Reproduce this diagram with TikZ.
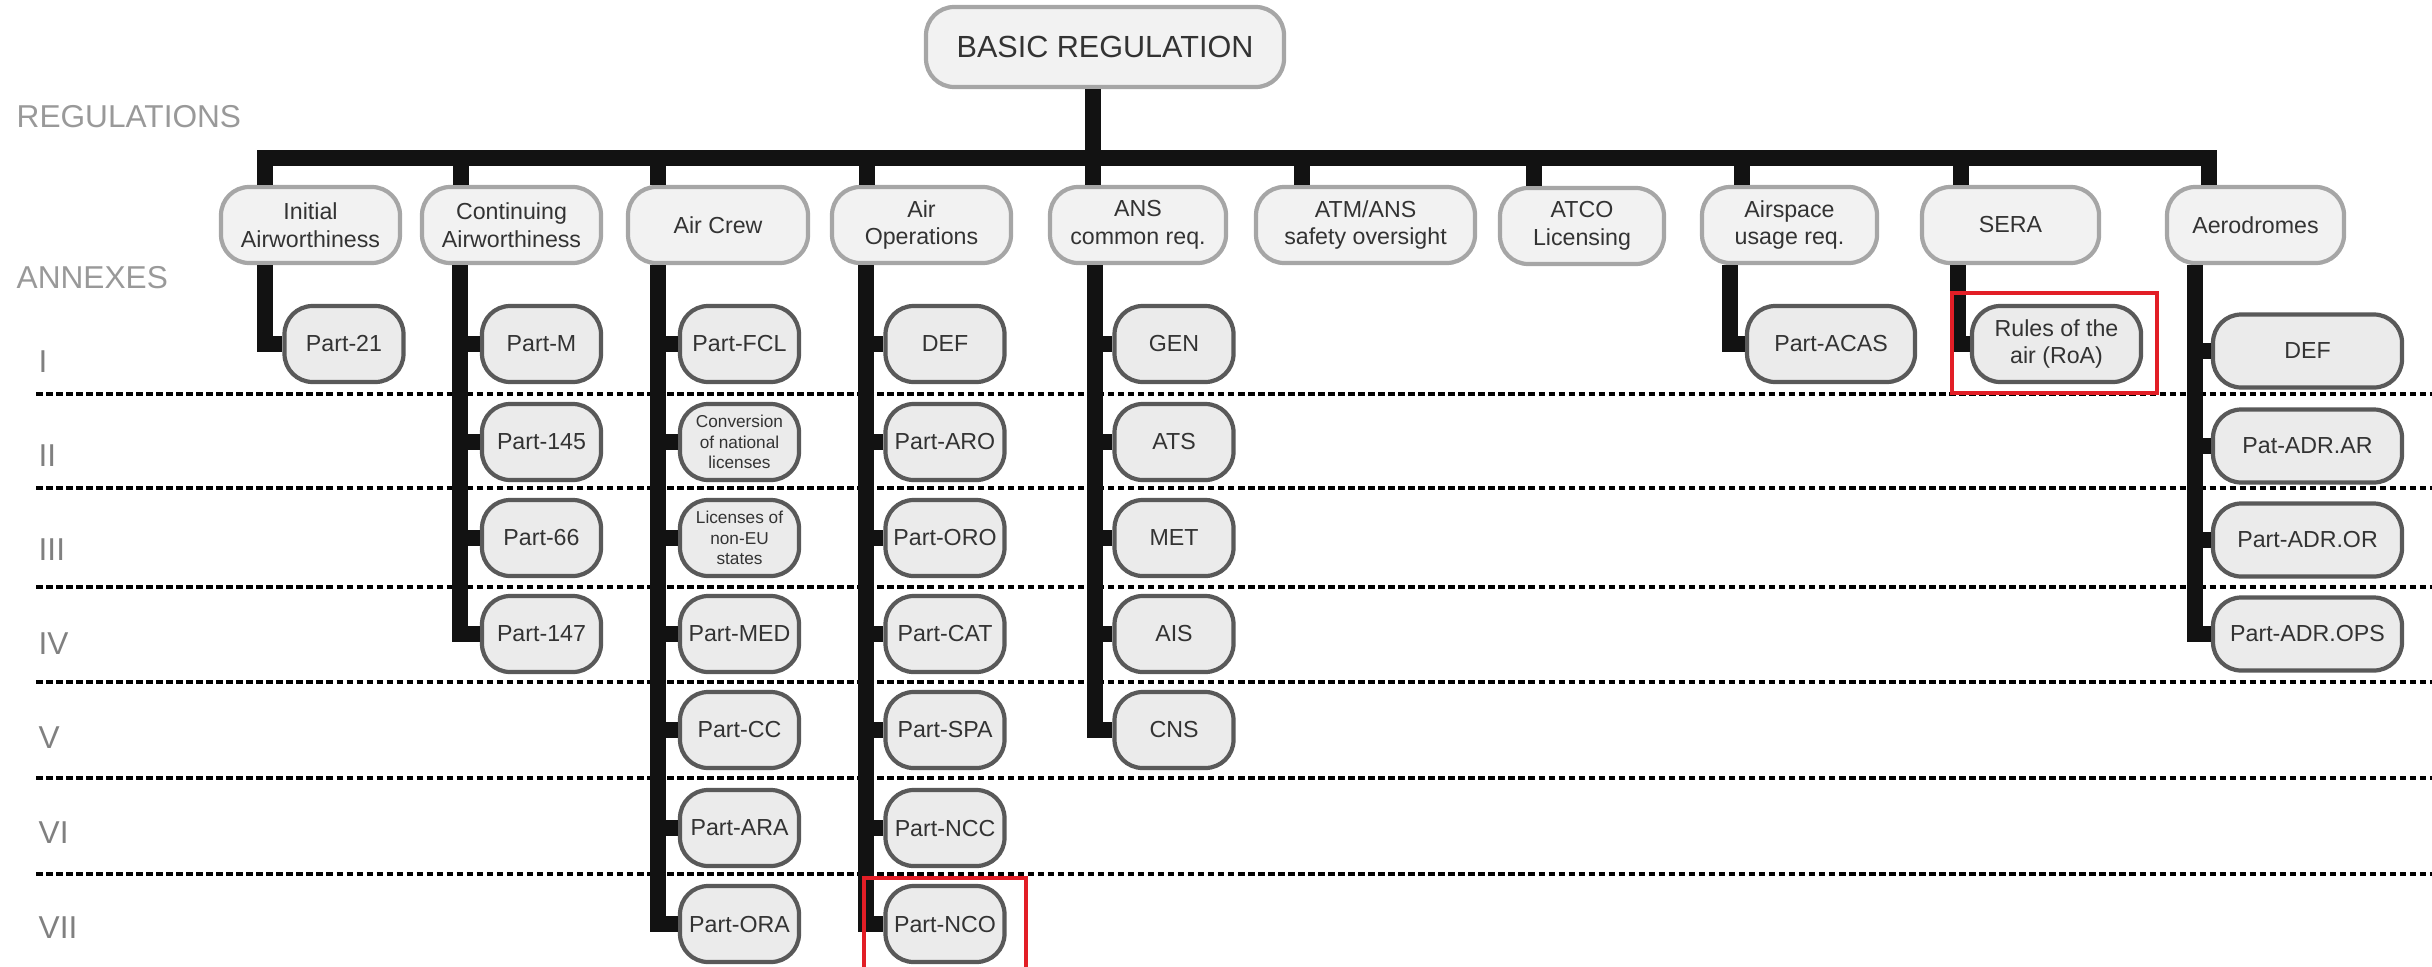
\documentclass[tikz,border=0pt]{standalone}
\usepackage{fontspec}
\setmainfont{Liberation Sans}
\usepackage{tikz}
\definecolor{framered}{RGB}{226,30,38}
\tikzset{
  regbox/.style={draw=black!35, fill=black!5, line width=1.2pt, rounded corners=8pt, inner sep=0pt,
    minimum height=0.76cm, align=center, text=black!80, font=\fontsize{6.6}{7.9}\selectfont},
  partbox/.style={regbox, draw=black!65, fill=black!8, minimum width=1.19cm},
  smalltext/.style={font=\fontsize{4.9}{5.8}\selectfont},
  bus/.style={line width=4.55pt, black!93},
  annex/.style={line width=1.1pt, dash pattern=on 1.85pt off 1pt},
  level/.style={anchor=west, inner sep=0pt, text=black!40, font=\fontsize{9}{10}\selectfont},
  redframe/.style={draw=framered, line width=1.15pt}
}
\begin{document}
\begin{tikzpicture}[x=0.1mm, y=-0.1mm]
        \useasboundingbox (0,0) rectangle (2432,966);
        \foreach \y in {394, 488, 587, 682, 778, 874} \draw[annex] (36,\y) -- (2432,\y);

        \node[level] (regs) at (16,117) {REGULATIONS};
        \node[level] (anx) at (16,278) {ANNEXES};
        \foreach \r/\y in {I/362, II/456, III/550, IV/644, V/738, VI/833, VII/928} \node[level, text=black!50] (a\r) at (38,\y) {\r};

        \node[regbox, minimum width=3.58cm, minimum height=0.80cm, font=\fontsize{8.7}{10}\selectfont] (root) at (1105,47) {BASIC REGULATION};

        \node[regbox, minimum width=1.79cm] (init) at (310.5,225) {Initial\\Airworthiness};
        \node[regbox, minimum width=1.79cm] (cont) at (511.5,225) {Continuing\\Airworthiness};
        \node[regbox, minimum width=1.80cm] (crew) at (718,225) {Air Crew};
        \node[regbox, minimum width=1.79cm] (ops) at (921.5,225) {Air\\Operations};
        \node[regbox, minimum width=1.76cm] (ans) at (1138,225) {ANS\\common req.};
        \node[regbox, minimum width=2.19cm] (atm) at (1365.5,225) {ATM/ANS\\safety oversight};
        \node[regbox, minimum width=1.64cm] (atco) at (1582,226) {ATCO\\Licensing};
        \node[regbox, minimum width=1.75cm] (asp) at (1789.5,225) {Airspace\\usage req.};
        \node[regbox, minimum width=1.77cm] (sera) at (2010.5,225) {SERA};
        \node[regbox, minimum width=1.77cm] (aero) at (2255.5,225) {Aerodromes};

        \node[partbox] (p21) at (344,344) {Part-21};
        \foreach \n/\y/\t in {pm/344/Part-M, p145/442/Part-145, p66/538/Part-66, p147/634/Part-147} \node[partbox] (\n) at (541.5,\y) {\t};
        \foreach \n/\y/\t in {fcl/344/Part-FCL, med/634/Part-MED, cc/730/Part-CC, ara/828/Part-ARA, ora/924/Part-ORA} \node[partbox] (\n) at (739.5,\y) {\t};
        \node[partbox, smalltext] (conv) at (739.5,442) {Conversion\\of national\\licenses};
        \node[partbox, smalltext] (lic) at (739.5,538) {Licenses of\\non-EU\\states};
        \foreach \n/\y/\t in {odef/344/DEF, aro/442/Part-ARO, oro/538/Part-ORO, cat/634/Part-CAT, spa/730/Part-SPA, ncc/828/Part-NCC, nco/924/Part-NCO} \node[partbox] (\n) at (945,\y) {\t};
        \foreach \n/\y/\t in {gen/344/GEN, ats/442/ATS, met/538/MET, ais/634/AIS, cns/730/CNS} \node[partbox] (\n) at (1174,\y) {\t};
        \node[partbox, minimum width=1.68cm] (acas) at (1831,344) {Part-ACAS};
        \node[partbox, minimum width=1.69cm] (roa) at (2056.5,344) {Rules of the\\air (RoA)};
        \foreach \n/\y/\t in {adef/351/DEF, adrar/446/Pat-ADR.AR, adror/540/Part-ADR.OR, adrops/634/Part-ADR.OPS} \node[partbox, minimum width=1.89cm, minimum height=0.73cm] (\n) at (2307.5,\y) {\t};

        \coordinate (bar) at (0,158);
        \coordinate (root-d) at ([xshift=-12*0.1mm]root.south);
        \foreach \n/\dx in {init/-45.5, cont/-50.5, crew/-60, ops/-54.5, ans/-45, atm/-63.5, atco/-48, asp/-47.5, sera/-49.5, aero/-46.5}
          \coordinate (\n-d) at ([xshift=\dx*0.1mm]\n.north);
        \draw[bus] (root-d) -- (root-d |- bar);
        \draw[bus, line cap=rect] (init-d |- bar) -- (aero-d |- bar);
        \foreach \n in {init, cont, crew, ops, ans, atm, atco, asp, sera, aero} \draw[bus] (\n-d |- bar) -- (\n-d);

        \foreach \n/\dx in {init/-45.5, cont/-51.5, crew/-60, ops/-55.5, ans/-43, asp/-59.5, sera/-52.5, aero/-60.5}
          \coordinate (\n-v) at ([xshift=\dx*0.1mm]\n.south);
        \foreach \n/\c in {init/p21, cont/p147, crew/ora, ops/nco, ans/cns, asp/acas, sera/roa, aero/adrops} \draw[bus] (\n-v) |- (\c.west);
        \foreach \c/\n in {pm/cont, p145/cont, p66/cont, fcl/crew, conv/crew, lic/crew, med/crew, cc/crew, ara/crew,
          odef/ops, aro/ops, oro/ops, cat/ops, spa/ops, ncc/ops, gen/ans, ats/ans, met/ans, ais/ans,
          adef/aero, adrar/aero, adror/aero} \draw[bus] (\c.west) -- (\c.west -| \n-v);

        \draw[redframe] ([shift={(-18,-11)}]roa.north west) rectangle ([shift={(14,9)}]roa.south east);
        \draw[redframe] ([shift={(-19,-6)}]nco.north west) rectangle ([shift={(19,20)}]nco.south east);
    \end{tikzpicture}
\end{document}
